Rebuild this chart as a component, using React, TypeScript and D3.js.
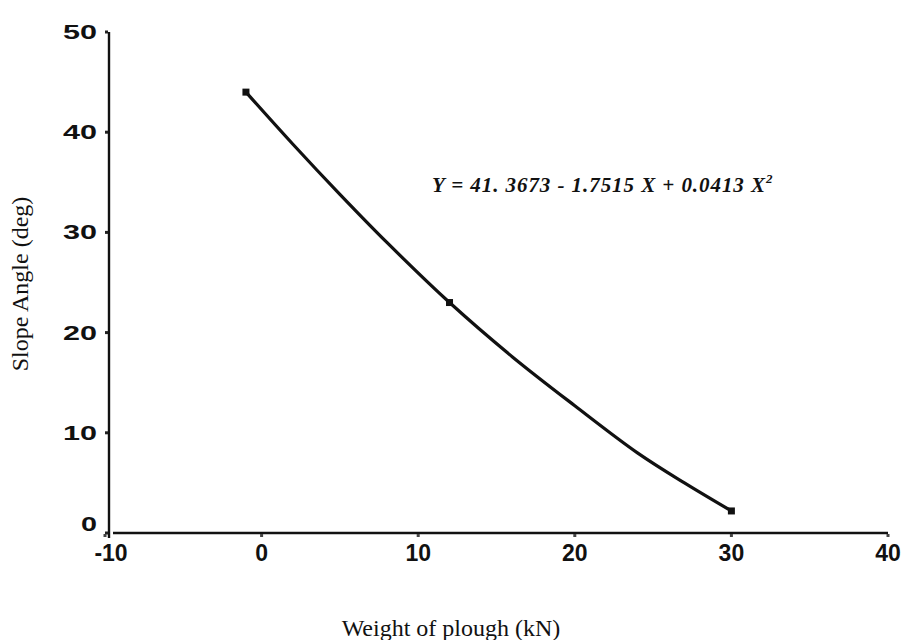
import React, {useEffect, useRef} from 'react';
import * as d3 from 'd3';

// curve: weight of plough (kN) vs slope angle (deg)
const weights = [-1, 2, 5, 8, 12, 16, 20, 24, 27, 30]
const angles = [44, 38.8, 33.8, 29, 23, 17.6, 12.7, 8, 5, 2.2]
const markedWeights = [-1, 12, 30]

const xTicks = [-10, 0, 10, 20, 30, 40]
const yTicks = [0, 10, 20, 30, 40, 50]

const xTitle = 'Weight of plough (kN)'
const yTitle = 'Slope Angle (deg)'
const equation = 'Y = 41. 3673 - 1.7515 X + 0.0413 X'

const App = () => {

    const svgRef = useRef<SVGSVGElement>(null);

    const width = 908
    const height = 640

    const data = weights.map((w, i) => ({x: w, y: angles[i]}))

    useEffect(() => {

        const svg = d3.select(svgRef.current)
        svg.selectAll('*').remove()

        const xScale = d3.scaleLinear()
            .domain([-10, 40])
            .range([105, 888])

        const yScale = d3.scaleLinear()
            .domain([0, 50])
            .range([533, 32])

        const tickFont = '"Liberation Sans", Arial, sans-serif'
        const serif = '"Liberation Serif", "Times New Roman", serif'

        // axes lines
        svg.append('line')
            .attr('x1', xScale(-10) + 4).attr('x2', xScale(-10) + 4)
            .attr('y1', yScale(50)).attr('y2', yScale(0) + 5)
            .attr('stroke', '#111').attr('stroke-width', 2.4)

        svg.append('line')
            .attr('x1', xScale(-10) + 8).attr('x2', xScale(40))
            .attr('y1', yScale(0)).attr('y2', yScale(0))
            .attr('stroke', '#111').attr('stroke-width', 2.4)

        // y ticks + labels
        const yg = svg.append('g')
        yg.selectAll('rect')
            .data(yTicks)
            .join('rect')
            .attr('x', xScale(-10))
            .attr('y', d => yScale(d) - 1.5)
            .attr('width', 3).attr('height', 3)
            .attr('fill', '#222')

        yg.selectAll('text')
            .data(yTicks)
            .join('text')
            .attr('x', 97)
            .attr('y', d => yScale(d) + (d === 0 ? -2 : 7))
            .attr('text-anchor', 'end')
            .attr('font-family', tickFont)
            .attr('font-weight', 'bold')
            .attr('font-size', 21)
            .attr('textLength', d => d === 0 ? 16 : 34)
            .attr('lengthAdjust', 'spacingAndGlyphs')
            .attr('fill', '#111')
            .text(d => d)

        // x ticks + labels
        const xg = svg.append('g')
        xg.selectAll('rect')
            .data(xTicks)
            .join('rect')
            .attr('x', d => xScale(d) - 1.5)
            .attr('y', yScale(0) + 1)
            .attr('width', 3).attr('height', 3)
            .attr('fill', '#444')

        xg.selectAll('text')
            .data(xTicks)
            .join('text')
            .attr('x', d => xScale(d) + (d === -10 ? 6 : 0))
            .attr('y', yScale(0) + 28)
            .attr('text-anchor', 'middle')
            .attr('font-family', tickFont)
            .attr('font-weight', 'bold')
            .attr('font-size', 23)
            .attr('fill', '#111')
            .text(d => d)

        // fitted curve
        const lineGenerator = d3.line<{x: number, y: number}>()
            .x(d => xScale(d.x))
            .y(d => yScale(d.y))
            .curve(d3.curveCatmullRom)

        svg.append('path')
            .datum(data)
            .attr('d', lineGenerator)
            .attr('fill', 'none')
            .attr('stroke', '#111')
            .attr('stroke-width', 3.2)

        svg.selectAll('.pt')
            .data(data.filter(d => markedWeights.includes(d.x)))
            .join('rect')
            .attr('class', 'pt')
            .attr('x', d => xScale(d.x) - 3.5)
            .attr('y', d => yScale(d.y) - 3.5)
            .attr('width', 7).attr('height', 7)
            .attr('fill', '#111')

        // equation
        const eq = svg.append('text')
            .attr('x', 432)
            .attr('y', 192)
            .attr('font-family', serif)
            .attr('font-weight', 'bold')
            .attr('font-style', 'italic')
            .attr('font-size', 21)
            .attr('fill', '#111')
        eq.append('tspan')
            .attr('textLength', 333)
            .attr('lengthAdjust', 'spacing')
            .text(equation)
        eq.append('tspan')
            .attr('dy', -9)
            .attr('font-size', 13)
            .text('2')

        // axis titles
        svg.append('text')
            .attr('x', 451)
            .attr('y', 636)
            .attr('text-anchor', 'middle')
            .attr('font-family', serif)
            .attr('font-size', 24)
            .attr('fill', '#111')
            .text(xTitle)

        svg.append('text')
            .attr('transform', `translate(28, 284) rotate(-90)`)
            .attr('text-anchor', 'middle')
            .attr('font-family', serif)
            .attr('font-size', 24)
            .attr('fill', '#111')
            .text(yTitle)

    }, [])

    return(
        <svg ref={svgRef} width={width} height={height}
            style={{position: 'absolute', left: 0, top: 0, background: '#fff'}}/>
    );
}

export default App;
